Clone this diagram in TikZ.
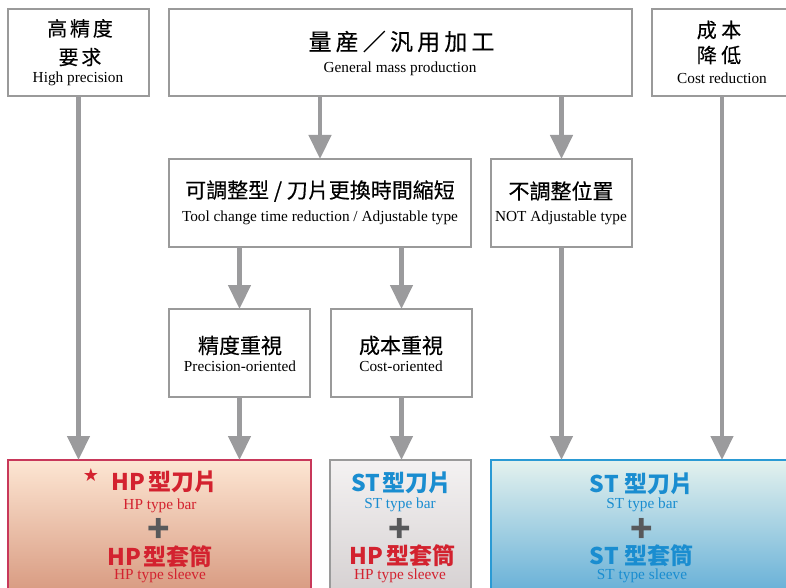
\documentclass[tikz,border=0pt]{standalone}
\usepackage{fontspec}
\setmainfont{Liberation Serif}
\newfontfamily\zhfont{Noto Sans CJK TC}
\newfontfamily\zhmed{Noto Sans CJK TC}[FakeBold=0.25]
\newfontfamily\symfont{DejaVu Sans}
\usetikzlibrary{arrows.meta}
\definecolor{framegray}{HTML}{9A9A9A}
\definecolor{arrowgray}{HTML}{9B9B9D}
\definecolor{hpred}{HTML}{D3222F}
\definecolor{stblue}{HTML}{1A8DD0}
\definecolor{plusgray}{HTML}{58595B}
\tikzset{
  box/.style={draw=framegray,line width=1.8pt,inner sep=0pt,outer sep=0pt,fill=white},
  zh/.style={font=\zhmed\fontsize{21}{25}\selectfont,inner sep=0pt},
  zhwide/.style={font=\zhmed\fontsize{20}{24}\selectfont\addfontfeatures{LetterSpace=14},inner sep=0pt},
  en/.style={font=\fontsize{15.3}{18}\selectfont,inner sep=0pt,anchor=base},
  big/.style={font=\zhfont\bfseries\fontsize{23}{26}\selectfont,inner sep=0pt,text height=0.86em,text depth=0.1em},
  plus/.style={font=\zhfont\bfseries\fontsize{37}{37}\selectfont,text=plusgray,inner sep=0pt,anchor=base,text height=0.62em,text depth=0pt},
  flow/.style={draw=arrowgray,line width=4.5pt,-{Triangle[width=22pt,length=24pt]}}
}
\newcommand{\lat}[1]{#1\hspace{2.5pt}}
\begin{document}
\begin{tikzpicture}[x=1pt,y=-1pt]
\useasboundingbox (0,0) rectangle (786,588);
% top row
\node[box,minimum width=141pt,minimum height=87pt] (hi) at (78.5,52.5) {};
\node[box,minimum width=463pt,minimum height=87pt] (gen) at (400.5,52.5) {};
\node[box,minimum width=140pt,minimum height=87pt] (cost) at (722,52.5) {};
\node[zhwide] (hi1) at (80,28.5) {高精度};
\node[zhwide] (hi2) at (80,57) {要求};
\node[en] (hi3) at (78,83) {High precision};
\node[zh,font=\zhmed\fontsize{23}{28}\selectfont\addfontfeatures{LetterSpace=18}] (gen1) at (401.5,41.5) {量産／汎用加工};
\node[en] (gen2) at (400,73) {General mass production};
\node[zh,font=\zhmed\fontsize{20}{24}\selectfont] (cost1) at (719,30) {成 本};
\node[zh,font=\zhmed\fontsize{20}{24}\selectfont] (cost2) at (719,55) {降 低};
\node[en] (cost3) at (722,84) {Cost reduction};
% second row
\node[box,minimum width=302pt,minimum height=88pt] (tool) at (320,203) {};
\node[box,minimum width=141pt,minimum height=88pt] (notadj) at (561.5,203) {};
\node[zh] (tool1) at (320,191) {可調整型 / 刀片更換時間縮短};
\node[en] (tool2) at (320,221.5) {Tool change time reduction / Adjustable type};
\node[zh] (notadj1) at (561,191) {不調整位置};
\node[en] (notadj2) at (561,221.5) {NOT Adjustable type};
% third row
\node[box,minimum width=141pt,minimum height=88pt] (prec) at (239.5,353) {};
\node[box,minimum width=141pt,minimum height=88pt] (costo) at (401.5,353) {};
\node[zh] (prec1) at (240,345.5) {精度重視};
\node[en] (prec2) at (240,371) {Precision-oriented};
\node[zh] (costo1) at (401,345.5) {成本重視};
\node[en] (costo2) at (401,371) {Cost-oriented};
% results
\node[box,draw={rgb,255:red,200;green,56;blue,90},top color={rgb,255:red,253;green,230;blue,211},bottom color={rgb,255:red,214;green,150;blue,124},minimum width=303pt,minimum height=140pt] (hp) at (159.5,530) {};
\node[box,top color={rgb,255:red,244;green,242;blue,242},bottom color={rgb,255:red,212;green,207;blue,208},minimum width=141pt,minimum height=140pt] (mid) at (400.5,530) {};
\node[box,draw={rgb,255:red,42;green,154;blue,212},top color={rgb,255:red,228;green,242;blue,238},bottom color={rgb,255:red,96;green,172;blue,214},minimum width=301pt,minimum height=140pt] (st) at (641.5,530) {};
\node[font=\symfont\fontsize{18}{18}\selectfont,text=hpred,inner sep=0pt] (star) at (91,475.5) {★};
\node[big,text=hpred] (hp1) at (164.5,486.5) {\lat{HP}型刀片};
\node[en,text=hpred] (hp2) at (160,509.5) {HP type bar};
\node[plus] (hp3) at (159,542) {+};
\node[big,text=hpred] (hp4) at (160,561.5) {\lat{HP}型套筒};
\node[en,text=hpred] (hp5) at (160,579) {HP type sleeve};
\node[big,text=stblue] (mid1) at (401.5,488) {\lat{ST}型刀片};
\node[en,text=stblue] (mid2) at (400,508.5) {ST type bar};
\node[plus] (mid3) at (400,542) {+};
\node[big,text=hpred] (mid4) at (402.5,561) {\lat{HP}型套筒};
\node[en,text=hpred] (mid5) at (400,579) {HP type sleeve};
\node[big,text=stblue] (st1) at (641.5,489) {ST 型刀片};
\node[en,text=stblue] (st2) at (642,508.5) {ST type bar};
\node[plus] (st3) at (642,542) {+};
\node[big,text=stblue] (st4) at (641.5,561) {ST 型套筒};
\node[en,text=stblue] (st5) at (642,579) {ST type sleeve};
% arrows
\draw[flow] (hi.south) -- (hi.south |- hp.north);
\draw[flow] (tool.north |- gen.south) -- (tool.north);
\draw[flow] (notadj.north |- gen.south) -- (notadj.north);
\draw[flow] (prec.north |- tool.south) -- (prec.north);
\draw[flow] (costo.north |- tool.south) -- (costo.north);
\draw[flow] (prec.south) -- (prec.south |- hp.north);
\draw[flow] (costo.south) -- (costo.south |- mid.north);
\draw[flow] (notadj.south) -- (notadj.south |- st.north);
\draw[flow] (cost.south) -- (cost.south |- st.north);
\end{tikzpicture}
\end{document}
